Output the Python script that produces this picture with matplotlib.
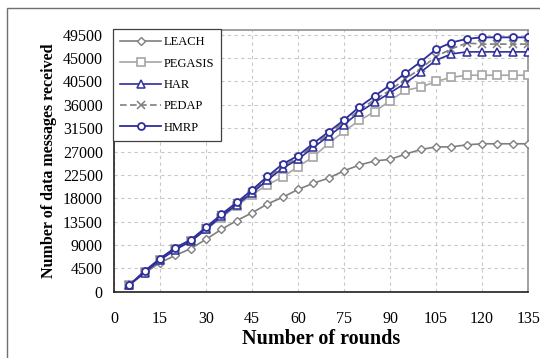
import matplotlib.pyplot as plt
from matplotlib.patches import Rectangle

# dados
rounds = [5, 10, 15, 20, 25, 30, 35, 40, 45, 50, 55, 60, 65, 70, 75, 80, 85,
          90, 95, 100, 105, 110, 115, 120, 125, 130, 135]

leach = [1300, 3600, 5600, 7000, 8300, 10100, 12000, 13700, 15200, 16900, 18200,
         19700, 20900, 21900, 23300, 24400, 25200, 25500, 26500, 27400, 27900,
         27900, 28300, 28500, 28500, 28500, 28500]
pegasis = [1300, 3900, 6200, 8200, 9700, 12000, 14300, 16500, 18700, 20600, 22100,
           24100, 26000, 28600, 30900, 33000, 34700, 36800, 38800, 39400, 40500,
           41300, 41700, 41700, 41700, 41700, 41700]
har = [1300, 3700, 6100, 8100, 9700, 12000, 14500, 16800, 19000, 21500, 23800,
       25500, 27800, 30000, 32200, 34600, 36500, 38300, 40200, 42300, 44600,
       45800, 46200, 46200, 46200, 46200, 46200]
pedap = [1300, 3800, 6200, 8300, 9800, 12200, 14700, 17000, 19300, 21800, 24200,
         25800, 28200, 30400, 32700, 35000, 37000, 38800, 41000, 43000, 45300,
         46800, 47900, 47700, 47700, 47700, 47700]
hmrp = [1300, 4000, 6400, 8500, 10000, 12400, 14900, 17200, 19600, 22200, 24600,
        26200, 28600, 30800, 33100, 35600, 37700, 39800, 42100, 44300, 46700,
        48000, 48700, 49000, 49000, 49000, 49000]

x_ticks = list(range(0, 136, 15))
y_ticks = list(range(0, 49501, 4500))

plt.rcParams['font.family'] = ['Liberation Serif', 'DejaVu Serif']

fig = plt.figure(figsize=(5.4, 3.58), dpi=100)
ax = fig.add_axes([0.211, 0.185, 0.767, 0.731])

blue = '#2e2e9c'
gray = '#7f7f7f'
lgray = '#a6a6a6'

ax.plot(rounds, leach, color=gray, lw=1.2, marker='D', ms=4.5, mfc='white',
        mec=gray, mew=1.0, label='LEACH', zorder=3)
ax.plot(rounds, pegasis, color=lgray, lw=1.2, marker='s', ms=6, mfc='white',
        mec=lgray, mew=1.2, label='PEGASIS', zorder=3)
ax.plot(rounds, har, color=blue, lw=1.2, marker='^', ms=5.5, mfc='white',
        mec=blue, mew=1.1, label='HAR', zorder=4)
ax.plot(rounds, pedap, color=gray, lw=1.2, ls=(0, (4, 2)), marker='x', ms=6,
        mec=gray, mew=1.1, label='PEDAP', zorder=3)
ax.plot(rounds, hmrp, color=blue, lw=1.3, marker='o', ms=5, mfc='white',
        mec=blue, mew=1.3, label='HMRP', zorder=5)

ax.set_xlim(0, 135)
ax.set_ylim(0, 50400)
ax.set_xticks(x_ticks)
ax.set_yticks(y_ticks)
ax.tick_params(axis='x', length=0, pad=14, labelsize=11.5)
ax.tick_params(axis='y', length=0, pad=8, labelsize=11.5)
ax.grid(True, color='#c8c8c8', ls=(0, (3, 3)), lw=0.8)

for s in ['top', 'right']:
    ax.spines[s].set_color('#909090')
    ax.spines[s].set_linewidth(1.2)
for s in ['left', 'bottom']:
    ax.spines[s].set_color('#202020')
    ax.spines[s].set_linewidth(1.2)

ax.set_xlabel('Number of rounds', fontsize=14.5, fontweight='bold', labelpad=1)
ax.set_ylabel('Number of data messages received', fontsize=11.5, fontweight='bold',
              labelpad=4)

leg = ax.legend(loc='upper left', bbox_to_anchor=(-0.002, 1.003), fontsize=9,
                handlelength=3.3, handletextpad=0.2, labelspacing=0.75,
                borderpad=0.55, borderaxespad=0, fancybox=False, framealpha=1)
leg.get_frame().set_edgecolor('#404040')
leg.get_frame().set_linewidth(0.9)

# moldura externa
fig.patches.append(Rectangle((7 / 540, -0.05), 1.1, 1 - 8 / 358 + 0.05,
                             transform=fig.transFigure, fill=False,
                             edgecolor='#707070', lw=1.0))

plt.savefig('out.png', dpi=100)
